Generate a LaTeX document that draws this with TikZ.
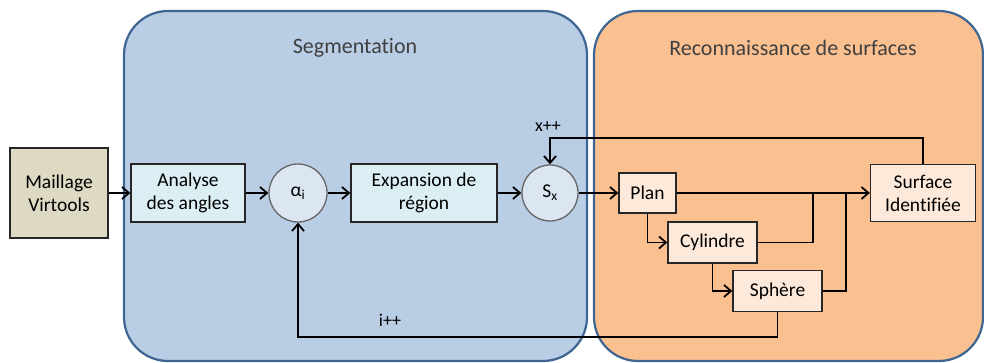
\documentclass[tikz,border=0pt]{standalone}
\usepackage{fontspec}
\setmainfont{Carlito}[Ligatures=NoCommon]
\usetikzlibrary{arrows.meta}
\definecolor{panelblue}{HTML}{B9CDE5}
\definecolor{panelorange}{HTML}{FAC090}
\definecolor{panelborder}{HTML}{3F6592}
\definecolor{tanfill}{HTML}{DDD9C3}
\definecolor{cyanfill}{HTML}{DBEEF4}
\definecolor{circfill}{HTML}{DCE6F2}
\definecolor{peachfill}{HTML}{FDE9D9}
\definecolor{titlegray}{HTML}{404040}
\tikzset{
  panel/.style={draw=panelborder,line width=2.2pt,rounded corners=44pt},
  boxnode/.style={draw=black!85,line width=1.3pt,align=center,inner sep=0pt,
    font=\fontsize{19.5}{23}\selectfont},
  circnode/.style={circle,draw=black!60,line width=1.3pt,fill=circfill,inner sep=0pt,
    font=\fontsize{19.5}{23}\selectfont},
  arr/.style={line width=1.8pt,-{Straight Barb[length=7pt,width=12pt,line width=1.8pt]}},
  conn/.style={line width=1.8pt},
  titletext/.style={font=\fontsize{22}{26}\selectfont,text=titlegray},
  looplabel/.style={font=\fontsize{18}{22}\selectfont}
}
\begin{document}
\begin{tikzpicture}[x=1pt,y=-1pt]
\useasboundingbox (0,0) rectangle (984,363);
% panels
\draw[panel,fill=panelblue] (124,11) rectangle (587,361);
\draw[panel,fill=panelorange] (594,11) rectangle (983,361);
\node[titletext] (t1) at (355,48) {Segmentation};
\node[titletext] (t2) at (793,48) {Reconnaissance de surfaces};
% nodes
\node[boxnode,fill=tanfill,minimum width=98pt,minimum height=90pt] (mv) at (59,193) {Maillage\\Virtools};
\node[boxnode,fill=cyanfill,minimum width=114pt,minimum height=58pt] (an) at (188,193) {Analyse\\des angles};
\node[circnode,minimum size=58pt] (al) at (298,193) {α\textsubscript{i}};
\node[boxnode,fill=cyanfill,minimum width=146pt,minimum height=58pt] (ex) at (424,193) {Expansion de\\région};
\node[circnode,minimum size=56pt] (sx) at (550,193) {S\textsubscript{x}};
\node[boxnode,fill=peachfill,minimum width=57pt,minimum height=40pt] (pl) at (647.5,193) {Plan};
\node[boxnode,fill=peachfill,minimum width=89pt,minimum height=41pt] (cy) at (712.5,242.5) {Cylindre};
\node[boxnode,fill=peachfill,minimum width=89pt,minimum height=41pt] (sp) at (777.5,291) {Sphère};
\node[boxnode,fill=peachfill,minimum width=105pt,minimum height=57pt] (si) at (923,193) {Surface\\Identifiée};
% coordinates
\coordinate (j1) at (813,193);
\coordinate (j2) at (846,193);
\coordinate (ta) at (923,138);
\coordinate (tb) at (550,138);
\coordinate (ba) at (777.5,337);
\coordinate (bb) at (298,337);
% connectors
\draw[arr] (mv) -- (an);
\draw[arr] (an) -- (al);
\draw[arr] (al) -- (ex);
\draw[arr] (ex) -- (sx);
\draw[arr] (sx) -- (pl);
\draw[arr] (pl) -- (si);
\draw[arr] (pl.south) |- (cy.west);
\draw[arr] (cy.south) |- (sp.west);
\draw[conn] (cy.east) -| (j1);
\draw[conn] (sp.east) -| (j2);
\draw[arr] (si.north) -- (ta) -- (tb) -- (sx.north);
\draw[arr] (sp.south) -- (ba) -- (bb) -- (al.south);
% labels
\node[looplabel] (xl) at (548,127) {x++};
\node[looplabel] (il) at (390,320) {i++};
\end{tikzpicture}
\end{document}
